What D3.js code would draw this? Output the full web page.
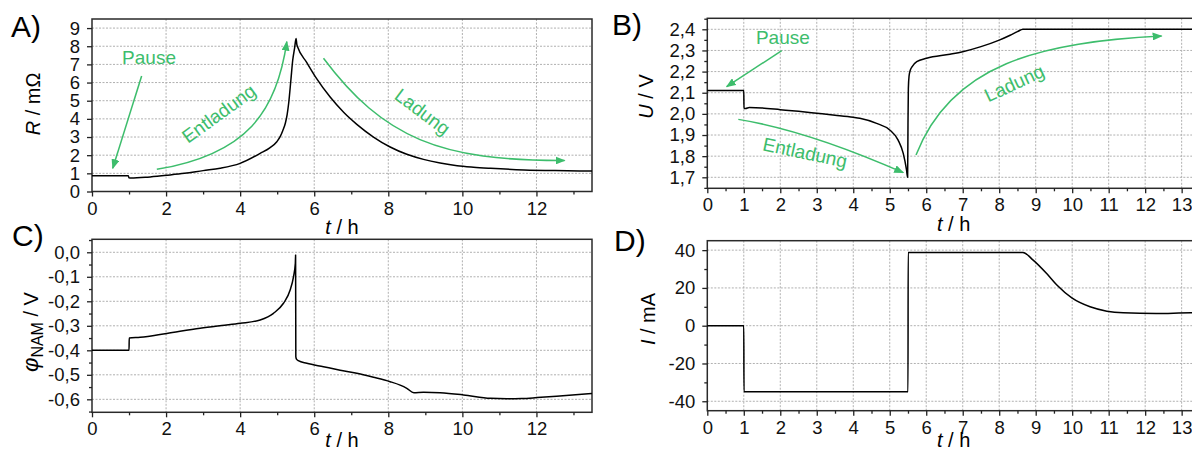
<!DOCTYPE html>
<html><head><meta charset="utf-8">
<script src="https://cdn.jsdelivr.net/npm/d3@7/dist/d3.min.js"></script>
<style>
body{margin:0;background:#fff;}
svg{display:block;font-family:"Liberation Sans",Arial,sans-serif;}
</style></head><body>
<svg id="c" width="1192" height="450"></svg>
<script>
// ---------- data ----------
const tR   = [0, 0.98, 1.0, 1.05, 1.5, 2, 2.5, 3, 3.46, 4, 4.54, 4.8, 4.99, 5.08, 5.15, 5.22, 5.27, 5.31, 5.37, 5.42, 5.47, 5.51, 5.53, 5.55, 5.8, 6.07, 6.43, 6.8, 7.15, 7.6, 8.05, 8.5, 8.95, 9.4, 9.86, 10.3, 10.76, 11.66, 12.5, 13.5];
const valR = [0.87, 0.87, 0.75, 0.74, 0.79, 0.89, 1.0, 1.15, 1.28, 1.55, 2.10, 2.4, 2.74, 3.02, 3.35, 3.76, 4.25, 4.86, 6.14, 7.24, 7.9, 8.43, 8.1, 7.97, 7.1, 6.2, 5.2, 4.35, 3.7, 3.0, 2.45, 2.05, 1.77, 1.57, 1.42, 1.34, 1.28, 1.19, 1.15, 1.13];

const tU   = [0, 1.0, 1.005, 1.05, 1.15, 1.5, 2, 2.5, 3, 3.5, 4, 4.18, 4.64, 5.0, 5.23, 5.37, 5.46, 5.49, 5.5, 5.51, 5.53, 5.56, 5.62, 5.74, 6.01, 6.65, 7, 7.5, 8, 8.3, 8.5, 8.65, 10, 12, 13.5];
const valU = [2.11, 2.11, 2.025, 2.025, 2.03, 2.028, 2.02, 2.012, 2.003, 1.994, 1.984, 1.979, 1.955, 1.924, 1.876, 1.813, 1.735, 1.70, 1.95, 2.12, 2.18, 2.205, 2.225, 2.247, 2.263, 2.282, 2.294, 2.318, 2.349, 2.372, 2.389, 2.40, 2.40, 2.40, 2.40];

const tPhi   = [0, 1.0, 1.005, 1.3, 2.02, 2.92, 3.5, 4.0, 4.54, 4.9, 5.17, 5.35, 5.44, 5.49, 5.497, 5.503, 5.52, 5.57, 5.8, 6.25, 6.7, 7.15, 7.6, 8.05, 8.32, 8.5, 8.69, 8.95, 9.4, 10.03, 10.76, 11.2, 11.6, 12.02, 12.8, 13.5];
const valPhi = [-0.40, -0.40, -0.35, -0.347, -0.331, -0.31, -0.299, -0.29, -0.276, -0.249, -0.208, -0.154, -0.10, -0.045, -0.011, -0.426, -0.436, -0.442, -0.453, -0.467, -0.481, -0.494, -0.51, -0.528, -0.542, -0.555, -0.573, -0.571, -0.573, -0.582, -0.596, -0.598, -0.597, -0.593, -0.584, -0.576];

const tI   = [0, 1.0, 1.005, 5.5, 5.505, 8.65, 8.93, 9.3, 9.58, 9.99, 10.49, 10.95, 11.4, 12.3, 13.25, 13.5];
const valI = [0, 0, -35, -35, 38.8, 38.8, 34.7, 27.6, 21.5, 14.7, 10, 7.7, 6.8, 6.4, 6.8, 6.8];

// tick values
const xTicksEven  = [0, 2, 4, 6, 8, 10, 12];
const xMinorOdd   = [1, 3, 5, 7, 9, 11, 13];
const xTicksAll   = [0, 1, 2, 3, 4, 5, 6, 7, 8, 9, 10, 11, 12, 13];
const xMinorHalf  = [0.5, 1.5, 2.5, 3.5, 4.5, 5.5, 6.5, 7.5, 8.5, 9.5, 10.5, 11.5, 12.5, 13.5];
const yTicksR     = [0, 1, 2, 3, 4, 5, 6, 7, 8, 9];
const yTicksU     = [1.7, 1.8, 1.9, 2.0, 2.1, 2.2, 2.3, 2.4];
const yMinorU     = [1.65, 1.75, 1.85, 1.95, 2.05, 2.15, 2.25, 2.35, 2.45];
const yTicksPhi   = [0, -0.1, -0.2, -0.3, -0.4, -0.5, -0.6];
const yMinorPhi   = [0.05, -0.05, -0.15, -0.25, -0.35, -0.45, -0.55, -0.65];
const yTicksI     = [-40, -20, 0, 20, 40];
const yMinorI     = [-30, -10, 10, 30];

// annotation texts/positions (data coordinates)
const annA = {
  pause: {text: "Pause", at: [1.54, 7.4], rot: 0},
  pauseArrow: [[1.34, 6.36], [0.56, 1.28]],
  ent: {text: "Entladung", at: [3.42, 4.3], rot: -36},
  entArrow: [[1.75, 1.22], [4.18, 2.05], [4.99, 4.39], [5.26, 8.25]],
  lad: {text: "Ladung", at: [8.93, 4.4], rot: 37},
  ladArrow: [[6.25, 7.34], [7.87, 2.93], [9.41, 1.68], [12.76, 1.71]]
};
const annB = {
  pause: {text: "Pause", at: [2.07, 2.361], rot: 0},
  pauseArrow: [[2.04, 2.299], [0.53, 2.129]],
  ent: {text: "Entladung", at: [2.68, 1.818], rot: 12},
  entArrow: [[0.85, 1.974], [2.36, 1.932], [4.0, 1.826], [5.37, 1.722]],
  lad: {text: "Ladung", at: [8.41, 2.146], rot: -25},
  ladArrow: [[5.72, 1.805], [6.68, 2.235], [9.12, 2.34], [12.45, 2.368]]
};

const fmtComma = v => v.toFixed(1).replace(".", ",");
const GREEN = "#3dbd6c";

const svg = d3.select("#c");
const defs = svg.append("defs");
defs.append("marker").attr("id", "ah").attr("viewBox", "0 0 10 8")
  .attr("refX", 9).attr("refY", 4).attr("markerWidth", 10).attr("markerHeight", 8)
  .attr("markerUnits", "userSpaceOnUse").attr("orient", "auto")
  .append("path").attr("d", "M0,0 L10,4 L0,8 Z").attr("fill", GREEN);

function panel(o) {
  const g = svg.append("g");
  const x = d3.scaleLinear().domain([0, 13.5]).range([o.l, o.r]);
  const y = d3.scaleLinear().domain(o.yd).range([o.b, o.t]);

  // grid
  g.append("g").selectAll("line").data(o.xt.filter(v => v > 0)).join("line")
    .attr("x1", d => x(d)).attr("x2", d => x(d)).attr("y1", o.t).attr("y2", o.b)
    .attr("stroke", "#b0b0b0").attr("stroke-width", 1).attr("stroke-dasharray", "2,1.5");
  g.append("g").selectAll("line").data(o.yt).join("line")
    .attr("x1", o.l).attr("x2", o.r).attr("y1", d => y(d)).attr("y2", d => y(d))
    .attr("stroke", "#b0b0b0").attr("stroke-width", 1).attr("stroke-dasharray", "2,1.5");

  // frame
  g.append("rect").attr("x", o.l).attr("y", o.t).attr("width", o.r - o.l).attr("height", o.b - o.t)
    .attr("fill", "none").attr("stroke", "#2a2a2a").attr("stroke-width", 1.5);

  // x axis
  const ax = g.append("g").attr("transform", `translate(0,${o.b})`)
    .call(d3.axisBottom(x).tickValues(o.xt).tickFormat(d => String(d)).tickSize(5).tickPadding(5).tickSizeOuter(0));
  ax.append("g").call(d3.axisBottom(x).tickValues(o.xm).tickFormat("").tickSize(3).tickSizeOuter(0));
  ax.selectAll(".domain").remove();
  ax.attr("font-size", null).attr("font-family", null);
  ax.selectAll("line").attr("stroke", "#222").attr("stroke-width", 1.3);
  ax.selectAll("text").attr("font-size", 18.5).attr("fill", "#111");

  // y axis
  const ay = g.append("g").attr("transform", `translate(${o.l},0)`)
    .call(d3.axisLeft(y).tickValues(o.yt).tickFormat(o.yf).tickSize(5).tickPadding(7).tickSizeOuter(0));
  if (o.ym) ay.append("g").call(d3.axisLeft(y).tickValues(o.ym).tickFormat("").tickSize(3).tickSizeOuter(0));
  ay.selectAll(".domain").remove();
  ay.attr("font-size", null).attr("font-family", null);
  ay.selectAll("line").attr("stroke", "#222").attr("stroke-width", 1.3);
  ay.selectAll("text").attr("font-size", 18.5).attr("fill", "#111");

  // data line
  const line = d3.line().x(d => x(d[0])).y(d => y(d[1])).curve(d3.curveMonotoneX);
  g.append("path").datum(d3.zip(o.t_, o.v_)).attr("d", line)
    .attr("fill", "none").attr("stroke", "#000").attr("stroke-width", 1.5).attr("stroke-linejoin", "round");

  // panel label
  g.append("text").attr("x", o.lab[0]).attr("y", o.lab[1]).attr("font-size", 30).attr("fill", "#000").text(o.label);

  // x title
  const xt = g.append("text").attr("x", (o.l + o.r) / 2).attr("y", o.xTitleY)
    .attr("text-anchor", "middle").attr("font-size", 20).attr("fill", "#000");
  xt.append("tspan").attr("font-style", "italic").text("t");
  xt.append("tspan").text(" / h");

  // y title
  const yt = g.append("text").attr("transform", `translate(${o.yTitle[0]},${o.yTitle[1]}) rotate(-90)`)
    .attr("text-anchor", "middle").attr("font-size", 20).attr("fill", "#000");
  o.yTitleFn(yt);

  // annotations
  if (o.ann) {
    const a = o.ann;
    const txt = t => g.append("text")
      .attr("transform", `translate(${x(t.at[0])},${y(t.at[1])}) rotate(${t.rot})`)
      .attr("text-anchor", "middle").attr("dy", "0.36em").attr("font-size", 19).attr("fill", GREEN).text(t.text);
    txt(a.pause); txt(a.ent); txt(a.lad);
    const P = p => [x(p[0]), y(p[1])];
    const straight = pts => { const [p0, p1] = pts.map(P); return `M${p0}L${p1}`; };
    const cubic = pts => { const [p0, c1, c2, p3] = pts.map(P); return `M${p0}C${c1} ${c2} ${p3}`; };
    [straight(a.pauseArrow), cubic(a.entArrow), cubic(a.ladArrow)].forEach(d =>
      g.append("path").attr("d", d).attr("fill", "none").attr("stroke", GREEN)
        .attr("stroke-width", 1.5).attr("marker-end", "url(#ah)"));
  }
}

panel({
  l: 92, r: 592, t: 19, b: 191.5, yd: [0, 9.5],
  xt: xTicksEven, xm: xMinorOdd, yt: yTicksR, ym: null, yf: d => String(d),
  t_: tR, v_: valR, label: "A)", lab: [11, 37], xTitleY: 234, yTitle: [40, 104],
  yTitleFn: t => { t.append("tspan").attr("font-style", "italic").text("R"); t.append("tspan").text(" / mΩ"); },
  ann: annA
});
panel({
  l: 707.3, r: 1199.9, t: 18.3, b: 188.3, yd: [1.648, 2.452],
  xt: xTicksAll, xm: xMinorHalf, yt: yTicksU, ym: yMinorU, yf: fmtComma,
  t_: tU, v_: valU, label: "B)", lab: [612, 35], xTitleY: 231, yTitle: [653, 96.5],
  yTitleFn: t => { t.append("tspan").attr("font-style", "italic").text("U"); t.append("tspan").text(" / V"); },
  ann: annB
});
panel({
  l: 92, r: 592, t: 239.3, b: 412.3, yd: [-0.653, 0.053],
  xt: xTicksEven, xm: xMinorOdd, yt: yTicksPhi, ym: yMinorPhi, yf: fmtComma,
  t_: tPhi, v_: valPhi, label: "C)", lab: [12, 246], xTitleY: 447, yTitle: [38, 332],
  yTitleFn: t => {
    t.append("tspan").attr("font-style", "italic").attr("font-size", 22).text("φ");
    t.append("tspan").attr("font-size", 16).attr("dy", 5).text("NAM");
    t.append("tspan").attr("dy", -5).text(" / V");
  },
  ann: null
});
panel({
  l: 707.3, r: 1199.9, t: 240.7, b: 410.7, yd: [-45, 45],
  xt: xTicksAll, xm: xMinorHalf, yt: yTicksI, ym: yMinorI, yf: d => String(d),
  t_: tI, v_: valI, label: "D)", lab: [614, 251], xTitleY: 447, yTitle: [655, 319],
  yTitleFn: t => { t.append("tspan").attr("font-style", "italic").text("I"); t.append("tspan").text(" / mA"); },
  ann: null
});
</script>
</body></html>
